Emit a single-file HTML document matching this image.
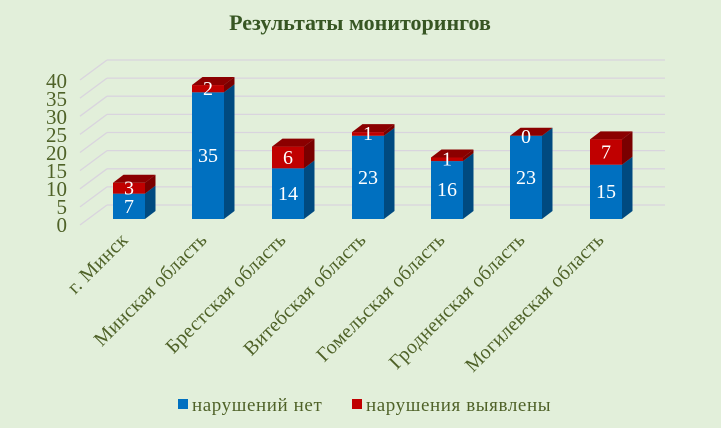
<!DOCTYPE html>
<html><head><meta charset="utf-8"><style>
html,body{margin:0;padding:0;background:#E2EFDA;}
svg{display:block;font-family:"Liberation Serif",serif;}
</style></head><body>
<svg width="721" height="428" viewBox="0 0 721 428" xmlns="http://www.w3.org/2000/svg">
<rect x="0" y="0" width="721" height="428" fill="#E2EFDA"/>
<text x="360" y="30" text-anchor="middle" font-size="22" font-weight="bold" fill="#375623">Результаты мониторингов</text>
<g stroke="#D9D4DE" stroke-width="1.3" fill="none">
<line x1="107" y1="60" x2="665" y2="60"/><line x1="80" y1="80" x2="107" y2="60"/>
<line x1="107" y1="78.1" x2="665" y2="78.1"/><line x1="80" y1="98.1" x2="107" y2="78.1"/>
<line x1="107" y1="96.2" x2="665" y2="96.2"/><line x1="80" y1="116.2" x2="107" y2="96.2"/>
<line x1="107" y1="114.4" x2="665" y2="114.4"/><line x1="80" y1="134.4" x2="107" y2="114.4"/>
<line x1="107" y1="132.5" x2="665" y2="132.5"/><line x1="80" y1="152.5" x2="107" y2="132.5"/>
<line x1="107" y1="150.6" x2="665" y2="150.6"/><line x1="80" y1="170.6" x2="107" y2="150.6"/>
<line x1="107" y1="168.8" x2="665" y2="168.8"/><line x1="80" y1="188.8" x2="107" y2="168.8"/>
<line x1="107" y1="186.9" x2="665" y2="186.9"/><line x1="80" y1="206.9" x2="107" y2="186.9"/>
<line x1="107" y1="205" x2="665" y2="205"/><line x1="80" y1="225" x2="107" y2="205"/>
</g>
<g font-size="21" fill="#4F6228" text-anchor="end">
<text x="67" y="88">40</text><text x="67" y="106">35</text><text x="67" y="124">30</text><text x="67" y="142">25</text><text x="67" y="160">20</text><text x="67" y="178">15</text><text x="67" y="196">10</text><text x="67" y="214">5</text><text x="67" y="232">0</text>
</g>

<rect x="113" y="193.66" width="32" height="25.34" fill="#0070C0"/>
<polygon points="145,219 155.5,211 155.5,185.66 145,193.66" fill="#004A80"/>
<rect x="113" y="182.8" width="32" height="10.86" fill="#C00000"/>
<polygon points="145,193.66 155.5,185.66 155.5,174.8 145,182.8" fill="#7A0000"/>
<polygon points="113,182.8 123.5,174.8 155.5,174.8 145,182.8" fill="#8B0000"/>

<rect x="192" y="92.3" width="32" height="126.7" fill="#0070C0"/>
<polygon points="224,219 234.5,211 234.5,84.3 224,92.3" fill="#004A80"/>
<rect x="192" y="85.06" width="32" height="7.24" fill="#C00000"/>
<polygon points="224,92.3 234.5,84.3 234.5,77.06 224,85.06" fill="#7A0000"/>
<polygon points="192,85.06 202.5,77.06 234.5,77.06 224,85.06" fill="#8B0000"/>

<rect x="272" y="168.32" width="32" height="50.68" fill="#0070C0"/>
<polygon points="304,219 314.5,211 314.5,160.32 304,168.32" fill="#004A80"/>
<rect x="272" y="146.6" width="32" height="21.72" fill="#C00000"/>
<polygon points="304,168.32 314.5,160.32 314.5,138.6 304,146.6" fill="#7A0000"/>
<polygon points="272,146.6 282.5,138.6 314.5,138.6 304,146.6" fill="#8B0000"/>

<rect x="352" y="135.74" width="32" height="83.26" fill="#0070C0"/>
<polygon points="384,219 394.5,211 394.5,127.74 384,135.74" fill="#004A80"/>
<rect x="352" y="132.12" width="32" height="3.62" fill="#C00000"/>
<polygon points="384,135.74 394.5,127.74 394.5,124.12 384,132.12" fill="#7A0000"/>
<polygon points="352,132.12 362.5,124.12 394.5,124.12 384,132.12" fill="#8B0000"/>

<rect x="431" y="161.08" width="32" height="57.92" fill="#0070C0"/>
<polygon points="463,219 473.5,211 473.5,153.08 463,161.08" fill="#004A80"/>
<rect x="431" y="157.46" width="32" height="3.62" fill="#C00000"/>
<polygon points="463,161.08 473.5,153.08 473.5,149.46 463,157.46" fill="#7A0000"/>
<polygon points="431,157.46 441.5,149.46 473.5,149.46 463,157.46" fill="#8B0000"/>

<rect x="510" y="135.74" width="32" height="83.26" fill="#0070C0"/>
<polygon points="542,219 552.5,211 552.5,127.74 542,135.74" fill="#004A80"/>
<polygon points="510,135.74 520.5,127.74 552.5,127.74 542,135.74" fill="#8B0000"/>

<rect x="590" y="164.7" width="32" height="54.3" fill="#0070C0"/>
<polygon points="622,219 632.5,211 632.5,156.7 622,164.7" fill="#004A80"/>
<rect x="590" y="139.36" width="32" height="25.34" fill="#C00000"/>
<polygon points="622,164.7 632.5,156.7 632.5,131.36 622,139.36" fill="#7A0000"/>
<polygon points="590,139.36 600.5,131.36 632.5,131.36 622,139.36" fill="#8B0000"/>

<g font-size="20" fill="#fff" text-anchor="middle">
<text x="129" y="213">7</text><text x="129" y="194.5">3</text>
<text x="208" y="162">35</text><text x="208" y="95">2</text>
<text x="288" y="200">14</text><text x="288" y="164">6</text>
<text x="368" y="184">23</text><text x="368" y="140">1</text>
<text x="447" y="196">16</text><text x="447" y="165.5">1</text>
<text x="526" y="184">23</text><text x="526" y="143">0</text>
<text x="606" y="198">15</text><text x="606" y="158.5">7</text>
</g>

<g font-size="20" fill="#4F6228" text-anchor="end" letter-spacing="0.3">
<text transform="translate(129,241) rotate(-45)">г. Минск</text>
<text transform="translate(208,241) rotate(-45)">Минская область</text>
<text transform="translate(287,241) rotate(-45)">Брестская область</text>
<text transform="translate(367,241) rotate(-45)">Витебская область</text>
<text transform="translate(446,241) rotate(-45)">Гомельская область</text>
<text transform="translate(526,241) rotate(-45)">Гродненская область</text>
<text transform="translate(605,241) rotate(-45)">Могилевская область</text>
</g>
<rect x="178" y="399" width="10" height="10" fill="#0070C0"/>
<text x="192" y="411" font-size="19" fill="#4F6228" letter-spacing="0.6">нарушений нет</text>
<rect x="352" y="399" width="10" height="10" fill="#C00000"/>
<text x="366" y="411" font-size="19" fill="#4F6228" letter-spacing="0.6">нарушения выявлены</text>
</svg>
</body></html>
